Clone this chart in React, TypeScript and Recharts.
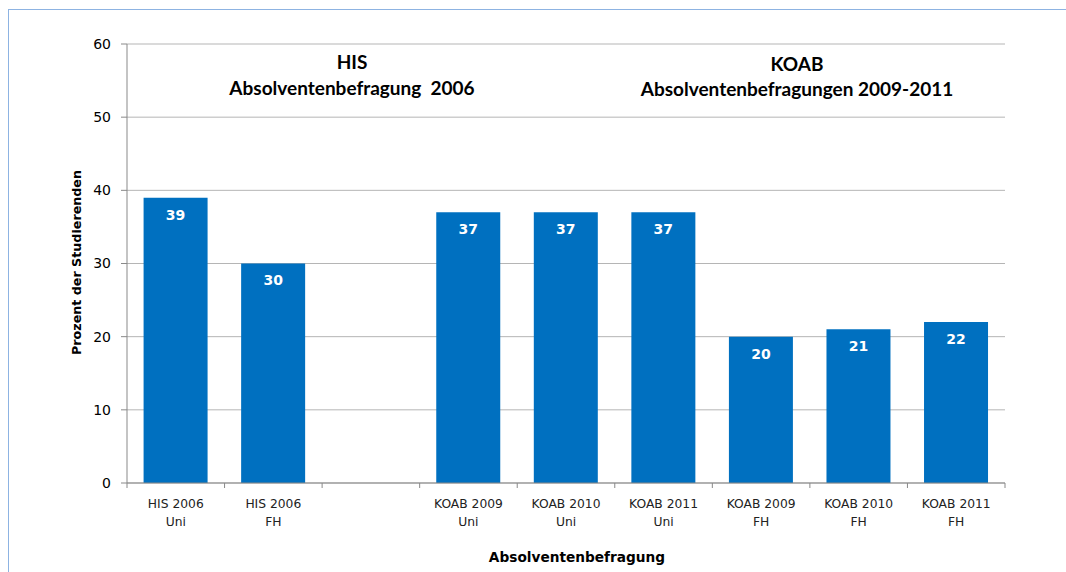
import React from "react";
import { BarChart, Bar, XAxis, YAxis, CartesianGrid, LabelList } from "recharts";

const categories = [
  "HIS 2006\nUni",
  "HIS 2006\nFH",
  "",
  "KOAB 2009\nUni",
  "KOAB 2010\nUni",
  "KOAB 2011\nUni",
  "KOAB 2009\nFH",
  "KOAB 2010\nFH",
  "KOAB 2011\nFH",
];
const values: (number | null)[] = [39, 30, null, 37, 37, 37, 20, 21, 22];
const yTicks = [0, 10, 20, 30, 40, 50, 60];

const data = categories.map((c, i) => ({ name: c, value: values[i] }));

const FONT = "'DejaVu Sans', Verdana, sans-serif";
const HEAD_FONT = "Lato, 'Open Sans', sans-serif";

const XTick = (props: any) => {
  const { x, y, payload, width, visibleTicksCount, index } = props;
  const slot = width && visibleTicksCount ? width / visibleTicksCount : 97.5;
  const lines = String(payload.value || "").split("\n");
  const isLast = index === (visibleTicksCount || 9) - 1;
  return (
    <g>
      <line x1={x - slot / 2} x2={x - slot / 2} y1={y} y2={y + 5} stroke="#898989" />
      {isLast && <line x1={x + slot / 2} x2={x + slot / 2} y1={y} y2={y + 5} stroke="#898989" />}
      {lines.map((l, i) => (
        <text key={i} x={x} y={y + 24.5 + i * 18} textAnchor="middle" fontFamily={FONT} fontSize={12.3} fill="#222">
          {l}
        </text>
      ))}
    </g>
  );
};

export default function App() {
  return (
    <div style={{ position: "absolute", left: 0, top: 0, width: 1066, height: 572, background: "#fff" }}>
      <div
        style={{
          position: "absolute",
          left: 8,
          top: 9,
          width: 1058,
          height: 563,
          borderTop: "1.5px solid #8db3e2",
          borderLeft: "1.5px solid #8db3e2",
          boxSizing: "border-box",
        }}
      />
      <BarChart
        width={1066}
        height={572}
        data={data}
        margin={{ top: 44, right: 61, bottom: 0, left: 60 }}
        barCategoryGap="17%"
        style={{ position: "absolute", left: 0, top: 0 }}
      >
        <CartesianGrid vertical={false} stroke="#b5b5b5" />
        <XAxis
          dataKey="name"
          interval={0}
          height={89}
          tickLine={false}
          tickSize={0}
          tickMargin={0}
          stroke="#898989"
          tick={<XTick />}
          label={{
            content: ({ viewBox }: any) => (
              <text
                x={viewBox.x + viewBox.width / 2 + 11}
                y={viewBox.y + viewBox.height - 10}
                textAnchor="middle"
                fontFamily={FONT}
                fontWeight="bold"
                fontSize={13.7}
                fill="#000"
              >
                Absolventenbefragung
              </text>
            ),
          }}
        />
        <YAxis
          width={67}
          domain={[0, 60]}
          ticks={yTicks}
          stroke="#898989"
          tickSize={6}
          tickMargin={10}
          tick={{ fontFamily: FONT, fontSize: 14, fill: "#000" }}
          label={{
            content: ({ viewBox }: any) => (
              <text
                x={76}
                y={viewBox.y + viewBox.height / 2 - 1}
                textAnchor="middle"
                dominantBaseline="central"
                transform={`rotate(-90 76 ${viewBox.y + viewBox.height / 2 - 1})`}
                fontFamily={FONT}
                fontWeight="bold"
                fontSize={12.7}
                fill="#000"
              >
                Prozent der Studierenden
              </text>
            ),
          }}
        />
        <Bar dataKey="value" fill="#0070c0" isAnimationActive={false}>
          <LabelList
            dataKey="value"
            position="insideTop"
            offset={12}
            fill="#fff"
            fontFamily={FONT}
            fontWeight="bold"
            fontSize={14}
          />
        </Bar>
      </BarChart>
      <div
        style={{
          position: "absolute",
          left: 202,
          width: 300,
          top: 49,
          textAlign: "center",
          fontFamily: HEAD_FONT,
          fontWeight: "bold",
          fontSize: 19,
          lineHeight: "26px",
          color: "#000",
          whiteSpace: "pre",
        }}
      >
        {"HIS\nAbsolventenbefragung  2006"}
      </div>
      <div
        style={{
          position: "absolute",
          left: 597,
          width: 400,
          top: 51,
          textAlign: "center",
          fontFamily: HEAD_FONT,
          fontWeight: "bold",
          fontSize: 19,
          lineHeight: "25px",
          color: "#000",
          whiteSpace: "pre",
        }}
      >
        {"KOAB\nAbsolventenbefragungen 2009-2011"}
      </div>
    </div>
  );
}
